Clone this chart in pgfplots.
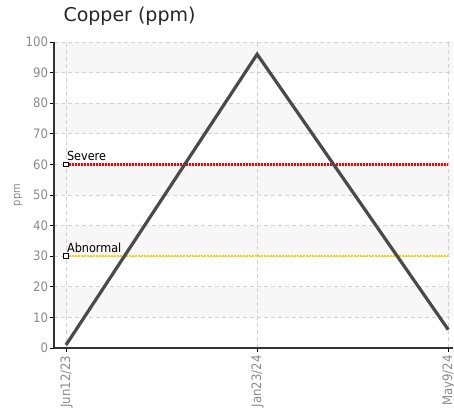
\documentclass[border=0pt]{standalone}
\usepackage{pgfplots}
\pgfplotsset{compat=1.18}
\usepackage{fontspec}
\setmainfont{DejaVu Sans}
\newfontfamily\cond{DejaVu Sans Condensed}
\definecolor{tickgray}{HTML}{8A8A8A}
\definecolor{bandgray}{HTML}{F7F7F7}
\definecolor{gridgray}{HTML}{D2D2D2}
\definecolor{axisdark}{HTML}{333333}
\definecolor{linegray}{HTML}{4A4A4A}
\definecolor{sevred}{HTML}{FF0000}
\definecolor{abngold}{HTML}{FFCC00}
\begin{document}
\begin{tikzpicture}
\begin{axis}[
  set layers,
  at={(54pt,62pt)}, anchor=south west,
  scale only axis, width=399pt, height=306pt,
  xmin=-0.063, xmax=2.025, ymin=0, ymax=100,
  axis lines*=left,
  axis line style={-, axisdark, line width=1.4pt},
  xtick={0,1,2},
  xticklabels={Jun12/23,Jan23/24,May9/24},
  ytick={0,10,...,100},
  tick align=outside,
  major tick length=4pt,
  tick style={black, line width=0.9pt},
  grid=major,
  major grid style={gridgray, dash pattern=on 4pt off 3pt, line width=0.8pt},
  /pgf/number format/assume math mode=true,
  yticklabel style={font=\cond\fontsize{13}{14}\selectfont, text=tickgray, xshift=1.5pt},
  xticklabel style={font=\cond\fontsize{13}{14}\selectfont, text=tickgray, rotate=90, anchor=east, yshift=-0.5pt},
  ylabel={ppm},
  every axis y label/.style={at={(axis description cs:-0.09,0.5)}, rotate=90, anchor=center, font=\cond\fontsize{11}{12}\selectfont, text=tickgray},
  title={Copper (ppm)},
  title style={at={(axis description cs:0.015,1)}, anchor=base west, yshift=14pt, font=\fontsize{19}{21}\selectfont, text=black!85},
  clip=false,
]
% background bands
\addplot[fill=bandgray, draw=none, on layer=axis background, forget plot] coordinates {(-0.063,10)(2.025,10)(2.025,20)(-0.063,20)};
\addplot[fill=bandgray, draw=none, on layer=axis background, forget plot] coordinates {(-0.063,30)(2.025,30)(2.025,40)(-0.063,40)};
\addplot[fill=bandgray, draw=none, on layer=axis background, forget plot] coordinates {(-0.063,50)(2.025,50)(2.025,60)(-0.063,60)};
\addplot[fill=bandgray, draw=none, on layer=axis background, forget plot] coordinates {(-0.063,70)(2.025,70)(2.025,80)(-0.063,80)};
\addplot[fill=bandgray, draw=none, on layer=axis background, forget plot] coordinates {(-0.063,90)(2.025,90)(2.025,100)(-0.063,100)};
% thresholds
\addplot[sevred, line width=2.4pt, dash pattern=on 2pt off 1pt, mark=square*, mark indices={1}, mark size=2.4pt, mark options={solid, fill=white, draw=black, line width=0.8pt}]
  coordinates {(0,60) (2,60)} node[pos=0, anchor=base west, xshift=-3.5pt, yshift=4pt, text=black, font=\cond\fontsize{12.5}{13}\selectfont] {Severe};
\addplot[abngold, line width=2.4pt, dash pattern=on 2pt off 1pt, mark=square*, mark indices={1}, mark size=2.4pt, mark options={solid, fill=white, draw=black, line width=0.8pt}]
  coordinates {(0,30) (2,30)} node[pos=0, anchor=base west, xshift=-3.5pt, yshift=4pt, text=black, font=\cond\fontsize{12.5}{13}\selectfont] {Abnormal};
% data
\addplot[linegray, line width=3.2pt, mark=none] coordinates {(0,1) (1,96) (2,6)};
\end{axis}
\pgfresetboundingbox
\useasboundingbox (0,0) rectangle (454pt,410pt);
\end{tikzpicture}
\end{document}
